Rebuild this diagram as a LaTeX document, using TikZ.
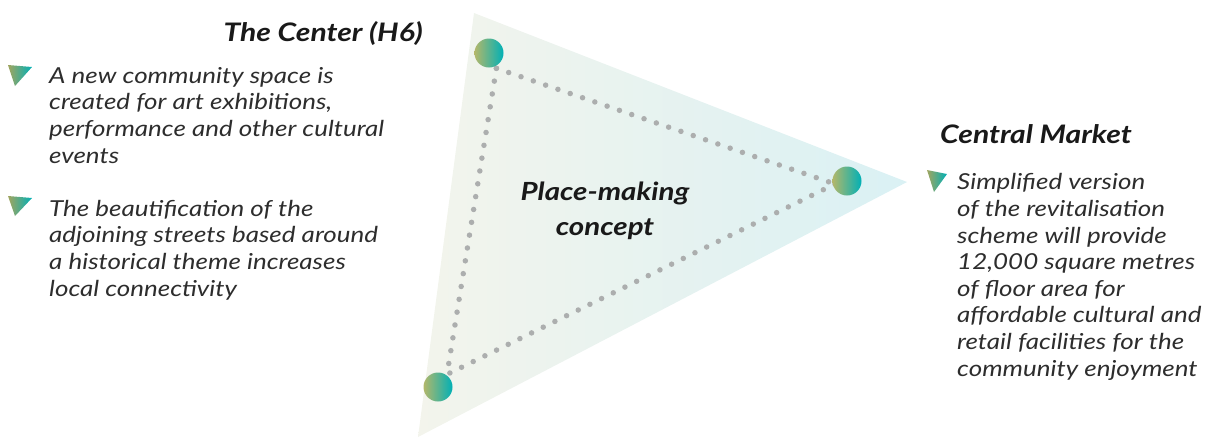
\documentclass[tikz,border=0pt]{standalone}
\usepackage{fontspec}
\setmainfont{Lato}[FakeStretch=1.18]
\usetikzlibrary{shadings}
\definecolor{olivec}{RGB}{178,183,106}
\definecolor{tealc}{RGB}{0,176,182}
\definecolor{triL}{RGB}{243,244,236}
\definecolor{triR}{RGB}{218,241,244}
\definecolor{dotgray}{RGB}{172,174,174}
\definecolor{bodytext}{RGB}{45,45,45}
\definecolor{headtext}{RGB}{25,25,25}
\tikzset{
  ball/.style={circle, minimum size=29pt, inner sep=0pt, left color=olivec, right color=tealc, draw=none},
  dotline/.style={draw=dotgray, line width=5.5pt, line cap=round, dash pattern=on 0pt off 13pt},
  bullettri/.style={left color=olivec!90!black, right color=tealc, draw=none},
  heading/.style={font=\fontsize{25.5}{30}\selectfont\bfseries\itshape, text=headtext, inner sep=0pt},
  body/.style={font=\fontsize{22}{26.6}\selectfont\itshape, text=bodytext, inner sep=0pt, align=left},
  concept/.style={font=\fontsize{25}{35}\selectfont\bfseries\itshape, text=headtext, inner sep=0pt, align=center}
}
\begin{document}
\begin{tikzpicture}[x=1pt, y=-1pt]
\useasboundingbox (0,0) rectangle (1206,437);
% big triangle
\shade[left color=triL, right color=triR] (474,13) -- (907,182) -- (418,437) -- cycle;
% dotted triangle corners
\coordinate (dA) at (496.4,68.3);
\coordinate (dB) at (835,184);
\coordinate (dC) at (447,374.4);
\draw[dotline] (dA) -- (dB);
\draw[dotline] (dB) -- (dC);
\draw[dotline] (dA) -- (dC);
% circles
\node[ball] (top) at (489,53) {};
\node[ball] (right) at (847,181) {};
\node[ball] (bottom) at (438,387) {};
% concept label (base = last line)
\node[concept, anchor=base] (concept) at (605,235) {Place-making\\concept};
% left heading
\node[heading, anchor=base east] (center) at (423,41) {The Center (H6)};
% left bullets
\shade[bullettri] (8,65) -- (32,67) -- (15,86) -- cycle;
\node[body, anchor=base west] (b1) at (49,163) {A new community space is\\created for art exhibitions,\\performance and other cultural\\events};
\shade[bullettri] (8,196) -- (32,198) -- (15,216) -- cycle;
\node[body, anchor=base west] (b2) at (49,296) {The beautification of the\\adjoining streets based around\\a historical theme increases\\local connectivity};
% right heading
\node[heading, anchor=base west] (market) at (940,143) {Central Market};
\shade[bullettri] (927,170) -- (947,174) -- (934,192) -- cycle;
\node[body, anchor=base west] (b3) at (957,376) {Simplified version\\of the revitalisation\\scheme will provide\\12,000 square metres\\of floor area for\\affordable cultural and\\retail facilities for the\\community enjoyment};
\end{tikzpicture}
\end{document}
